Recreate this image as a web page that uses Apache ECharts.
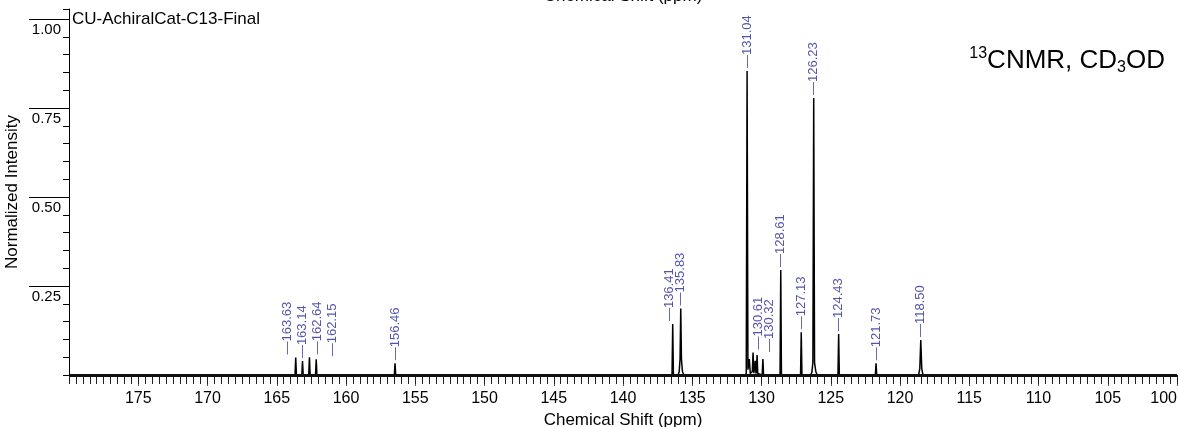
<!DOCTYPE html>
<html>
<head>
<meta charset="utf-8">
<script src="https://cdn.jsdelivr.net/npm/echarts@6/dist/echarts.min.js"></script>
<style>
  html, body { margin: 0; padding: 0; background: #fff; }
  #chart { width: 1178px; height: 427px; }
</style>
</head>
<body>
<div id="chart"></div>
<script>
// Picked peaks (ppm) and their normalized intensities
const peakShifts  = [163.63, 163.14, 162.64, 162.15, 156.46, 136.41, 135.83, 131.04, 130.61, 130.32, 128.61, 127.13, 126.23, 124.43, 121.73, 118.50];
const peakHeights = [0.049, 0.039, 0.050, 0.044, 0.033, 0.143, 0.187, 0.854, 0.063, 0.056, 0.295, 0.120, 0.778, 0.115, 0.033, 0.098];

// Spectrum trace: [chemical shift (ppm), normalized intensity]
const spectrum = [
  [180.00, 0],
  [163.68, 0], [163.63, 0.049], [163.58, 0],
  [163.19, 0], [163.14, 0.039], [163.09, 0],
  [162.69, 0], [162.64, 0.050], [162.59, 0],
  [162.20, 0], [162.15, 0.044], [162.10, 0],
  [156.51, 0], [156.46, 0.033], [156.41, 0],
  [136.46, 0], [136.41, 0.143], [136.36, 0],
  [136.02, 0], [135.94, 0.010], [135.88, 0.045], [135.83, 0.187], [135.78, 0.045], [135.71, 0.010], [135.60, 0],
  [131.14, 0], [131.10, 0.006], [131.04, 0.854], [130.98, 0.015], [130.93, 0.010], [130.88, 0.045], [130.81, 0.004],
  [130.66, 0.010], [130.61, 0.063], [130.55, 0.005], [130.50, 0.010], [130.45, 0.040], [130.40, 0.004],
  [130.36, 0.010], [130.32, 0.056], [130.27, 0.004], [130.20, 0],
  [129.95, 0], [129.90, 0.045], [129.85, 0],
  [128.66, 0], [128.61, 0.295], [128.56, 0],
  [127.18, 0], [127.13, 0.120], [127.08, 0],
  [126.45, 0], [126.36, 0.008], [126.29, 0.035], [126.23, 0.778], [126.17, 0.035], [126.08, 0.010], [125.98, 0],
  [124.48, 0], [124.43, 0.115], [124.38, 0],
  [121.78, 0], [121.73, 0.033], [121.68, 0],
  [118.66, 0], [118.57, 0.018], [118.50, 0.098], [118.43, 0.018], [118.34, 0],
  [100.00, 0]
];

// Intensity axis tick labels
const yLabelValues = [0.25, 0.50, 0.75, 1.00];

const FONT = '"Liberation Sans", Arial, Helvetica, sans-serif';
const LABEL_BLUE = '#28289a';

// Sideways nudges (px) for crowded peak labels; labels are rotated, so the
// screen-horizontal shift goes into the second offset component.
const labelNudge = { '163.63': -8, '162.64': 8, '162.15': 16, '136.41': -3, '130.61': 5, '130.32': 12 };

const peakData = peakShifts.map((p, i) => ({
  value: [p, peakHeights[i]],
  label: { offset: [0, labelNudge[p.toFixed(2)] || 0] }
}));

const X_MIN = 100, X_MAX = 180, Y_MAX = 1.028;

const chart = echarts.init(document.getElementById('chart'), null, { renderer: 'canvas' });

function xAxisBase(interval, tickLen, extra) {
  return Object.assign({
    type: 'value', min: X_MIN, max: X_MAX, inverse: true, interval: interval,
    gridIndex: 0, position: 'bottom', offset: 2,
    axisLine: { show: false },
    axisTick: { show: true, length: tickLen, lineStyle: { color: '#222', width: 1 } },
    axisLabel: { show: false },
    splitLine: { show: false }
  }, extra || {});
}

chart.setOption({
  animation: false,
  backgroundColor: '#fff',
  textStyle: { fontFamily: FONT },
  grid: { left: 69, right: 1, top: 9, bottom: 52, containLabel: false, outerBoundsMode: 'none' },
  xAxis: [
    xAxisBase(5, 11, {
      axisTick: { show: true, length: 11, lineStyle: { color: '#555', width: 1 } },
      axisLabel: {
        show: true, fontSize: 16, color: '#000', fontFamily: FONT, margin: 14,
        showMaxLabel: false, alignMinLabel: 'right'
      },
      name: 'Chemical Shift (ppm)', nameLocation: 'middle', nameGap: 34,
      nameTextStyle: { fontSize: 17, color: '#000', fontFamily: FONT }
    }),
    xAxisBase(2.5, 9),
    xAxisBase(0.5, 7)
  ],
  yAxis: [
    {
      type: 'value', min: 0, max: Y_MAX, position: 'left', gridIndex: 0,
      axisLine: { show: true, lineStyle: { color: '#000', width: 1 } },
      axisTick: { show: true, customValues: yLabelValues, length: 40, lineStyle: { color: '#000', width: 1 } },
      axisLabel: {
        show: true, customValues: yLabelValues, fontSize: 15, color: '#000', fontFamily: FONT,
        margin: 8, verticalAlign: 'top', padding: [3, 0, 0, 0],
        formatter: v => v.toFixed(2)
      },
      splitLine: { show: false },
      name: 'Normalized Intensity', nameLocation: 'middle', nameGap: 36,
      nameTextStyle: { fontSize: 17, color: '#000', fontFamily: FONT }
    },
    {
      type: 'value', min: 0, max: Y_MAX, interval: 0.05, position: 'left', gridIndex: 0,
      axisLine: { show: false },
      axisTick: { show: true, length: 6, lineStyle: { color: '#000', width: 1 } },
      axisLabel: { show: false },
      splitLine: { show: false }
    }
  ],
  series: [
    {
      type: 'line', xAxisIndex: 0, yAxisIndex: 0,
      data: spectrum, symbol: 'none', silent: true,
      lineStyle: { color: '#000', width: 1.5 },
      clip: true,
      markLine: {
        silent: true, symbol: 'none', label: { show: false },
        lineStyle: { color: '#111', width: 3, type: 'solid' },
        data: [{ yAxis: 0 }]
      },
      z: 3
    },
    {
      type: 'scatter', xAxisIndex: 0, yAxisIndex: 0,
      data: peakData, symbolSize: 0, silent: true,
      label: {
        show: true, position: 'top', distance: 3, rotate: 90,
        align: 'left', verticalAlign: 'middle',
        fontSize: 13, fontFamily: FONT, color: LABEL_BLUE,
        formatter: p => '\u2014' + p.value[0].toFixed(2)
      },
      z: 4
    }
  ],
  graphic: [
    {
      type: 'text', x: 72, y: 11, silent: true,
      style: { text: 'CU-AchiralCat-C13-Final', fontSize: 17, fontFamily: FONT, fill: '#000', align: 'left', verticalAlign: 'top' }
    },
    {
      type: 'text', x: 623, y: 5, silent: true,
      style: { text: 'Chemical Shift (ppm)', fontSize: 17, fontFamily: FONT, fill: '#000', align: 'center', verticalAlign: 'bottom' }
    },
    {
      type: 'text', x: 1165, y: 46, silent: true,
      style: {
        text: '{sup|13}{main|CNMR, CD}{sub|3}{main|OD}',
        align: 'right', verticalAlign: 'top', fill: '#000', fontFamily: FONT,
        rich: {
          sup:  { fontSize: 16, lineHeight: 14, verticalAlign: 'top', fontFamily: FONT, fill: '#000' },
          main: { fontSize: 26, lineHeight: 30, fontFamily: FONT, fill: '#000' },
          sub:  { fontSize: 16, lineHeight: 16, verticalAlign: 'bottom', fontFamily: FONT, fill: '#000' }
        }
      }
    }
  ]
});
</script>
</body>
</html>
